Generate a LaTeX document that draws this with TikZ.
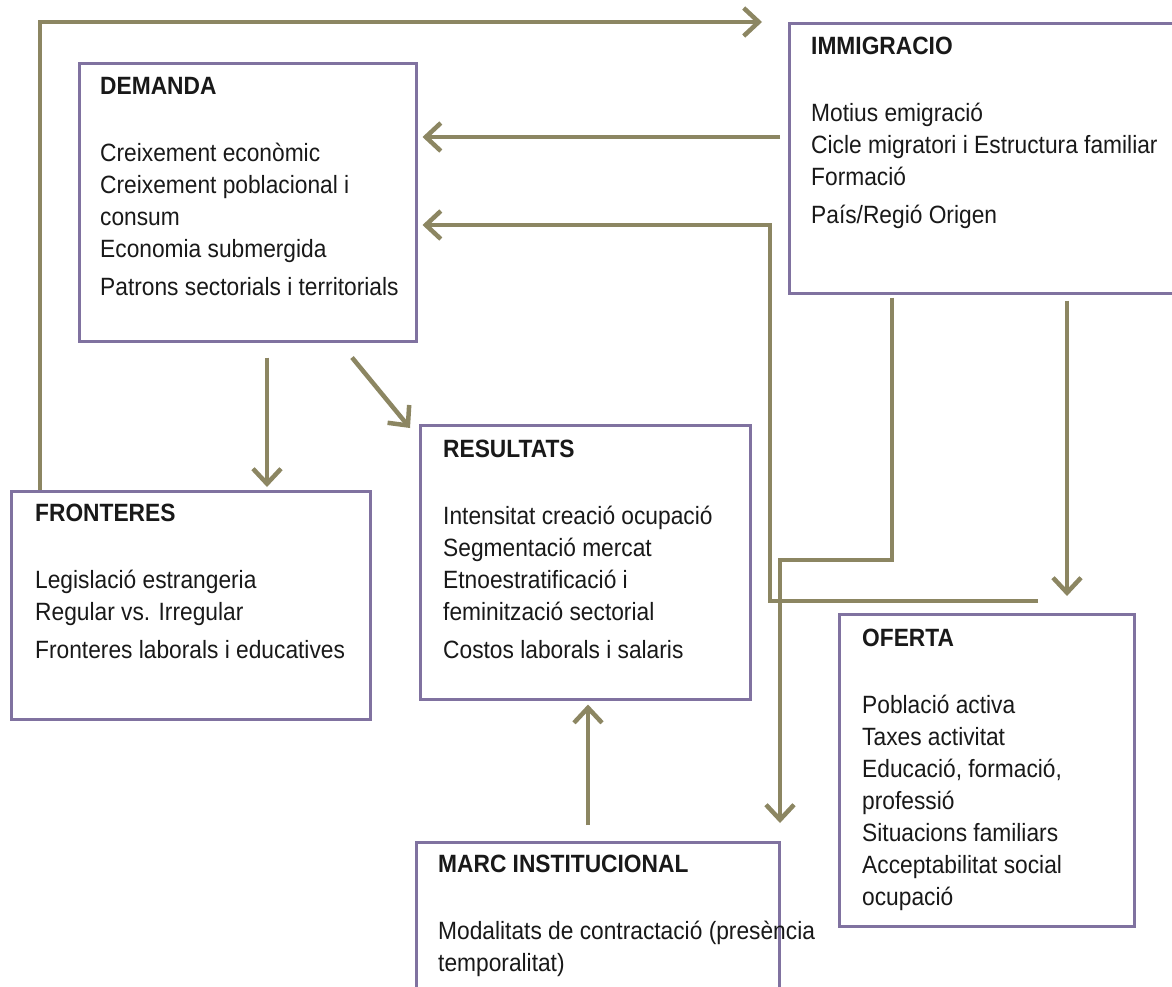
\documentclass[tikz,border=0pt]{standalone}
\usepackage{fontspec}
\setmainfont{Liberation Sans}[FakeStretch=0.91]
\usetikzlibrary{arrows.meta}
\definecolor{olivearr}{RGB}{140,134,98}
\definecolor{boxline}{RGB}{128,114,160}
\definecolor{txtcol}{RGB}{25,25,25}
\begin{document}
\begin{tikzpicture}[x=1pt,y=-1pt,
  box/.style={draw=boxline, line width=2.5pt, fill=white, rectangle, inner sep=0pt, anchor=north west},
  txt/.style={anchor=north west, inner sep=0pt, align=left, text=txtcol, font=\fontsize{25}{32}\selectfont},
  arr/.style={draw=olivearr, line width=4.5pt, -{Straight Barb[length=15pt,width=28pt]}}]
\useasboundingbox (0,0) rectangle (1172,986);
\fill[white] (0,0) rectangle (1172,986);

% boxes
\node[box, minimum width=337pt, minimum height=278pt] (dem) at (78,62) {};
\node[box, minimum width=392pt, minimum height=270pt] (imm) at (788,22) {};
\node[box, minimum width=330pt, minimum height=274pt] (res) at (419,424) {};
\node[box, minimum width=359pt, minimum height=228pt] (fro) at (10,490) {};
\node[box, minimum width=295pt, minimum height=312pt] (ofe) at (838,613) {};
\node[box, minimum width=363pt, minimum height=170pt] (mar) at (415,841) {};

% texts
\node[txt] (demt) at (100,77) {\textbf{DEMANDA}\\[35pt]
Creixement econòmic\\
Creixement poblacional i\\
consum\\
Economia submergida\\[6pt]
Patrons sectorials i territorials};
\node[txt] (immt) at (811,37) {\textbf{IMMIGRACIO}\\[35pt]
Motius emigració\\
Cicle migratori i Estructura familiar\\
Formació\\[6pt]
País/Regió Origen};
\node[txt] (rest) at (443,440) {\textbf{RESULTATS}\\[35pt]
Intensitat creació ocupació\\
Segmentació mercat\\
Etnoestratificació i\\
feminització sectorial\\[6pt]
Costos laborals i salaris};
\node[txt] (frot) at (35,504) {\textbf{FRONTERES}\\[35pt]
Legislació estrangeria\\
Regular vs. Irregular\\[6pt]
Fronteres laborals i educatives};
\node[txt] (ofet) at (862,629) {\textbf{OFERTA}\\[35pt]
Població activa\\
Taxes activitat\\
Educació, formació,\\
professió\\
Situacions familiars\\
Acceptabilitat social\\
ocupació};
\node[txt] (mart) at (438,855) {\textbf{MARC INSTITUCIONAL}\\[35pt]
Modalitats de contractació (presència\\
temporalitat)};

% connectors
\draw[arr] ([xshift=30pt]fro.north west) |- ([xshift=-26pt]imm.north west);
\draw[arr] ([xshift=-8pt,yshift=-115pt]imm.north west) -- ([xshift=5pt,yshift=-75pt]dem.north east);
\coordinate (ko) at (770,225);
\draw[arr] ([xshift=200pt,yshift=12pt]ofe.north west) -| (ko) -- ([xshift=5pt,yshift=-163pt]dem.north east);
\coordinate (kc) at (780,560);
\coordinate (kce) at (780,823);
\draw[arr] ([xshift=104pt,yshift=-3pt]imm.south west) |- (kc) -- (kce);
\draw[arr] ([xshift=279pt,yshift=-6pt]imm.south west) -- ([xshift=229pt,yshift=17pt]ofe.north west);
\draw[arr] ([xshift=189pt,yshift=-15pt]dem.south west) -- ([xshift=257pt,yshift=3pt]fro.north west);
\draw[arr] ([xshift=274pt,yshift=-15pt]dem.south west) -- ([xshift=-9pt,yshift=-4pt]res.north west);
\draw[arr] ([xshift=173pt,yshift=16pt]mar.north west) -- ([xshift=169pt,yshift=-4pt]res.south west);
\end{tikzpicture}
\end{document}
